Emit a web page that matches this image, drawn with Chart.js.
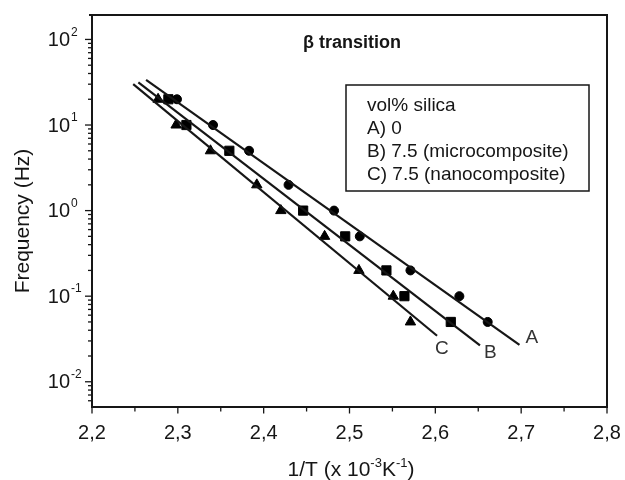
<!DOCTYPE html>
<html>
<head>
<meta charset="utf-8">
<script src="https://cdn.jsdelivr.net/npm/chart.js@4.4.1/dist/chart.umd.min.js"></script>
<style>
  html, body { margin: 0; padding: 0; background: #fff; }
  #wrap { width: 625px; height: 480px; }
</style>
</head>
<body>
<div id="wrap"><canvas id="chart" width="625" height="480"></canvas></div>
<script>
// 1/T (x 10^-3 K^-1) and frequency (Hz)
const xA = [2.299, 2.341, 2.383, 2.429, 2.482, 2.512, 2.571, 2.628, 2.661];
const yA = [20, 10, 5, 2, 1, 0.5, 0.2, 0.1, 0.05];
const xB = [2.289, 2.310, 2.360, 2.446, 2.495, 2.543, 2.564, 2.618];
const yB = [20, 10, 5, 1, 0.5, 0.2, 0.1, 0.05];
const xC = [2.277, 2.298, 2.338, 2.392, 2.420, 2.471, 2.511, 2.551, 2.571];
const yC = [20, 10, 5, 2, 1, 0.5, 0.2, 0.1, 0.05];

// fitted lines (start, end)
const fitAx = [2.263, 2.698];
const fitAy = [33.7, 0.027];
const fitBx = [2.254, 2.652];
const fitBy = [31.4, 0.0266];
const fitCx = [2.248, 2.602];
const fitCy = [30.1, 0.0345];

// curve names and where they sit
const curveNames = ['A', 'B', 'C'];
const curveLabelX = [2.7125, 2.664, 2.6076];
const curveLabelY = [0.0327, 0.0218, 0.0243];

const xTicks = [2.2, 2.3, 2.4, 2.5, 2.6, 2.7, 2.8];
const yDecades = [-2, -1, 0, 1, 2];
const yMin = 0.00514;
const yMax = 193;

const titleText = 'β transition';
const legendLines = ['vol% silica', 'A) 0', 'B) 7.5 (microcomposite)', 'C) 7.5 (nanocomposite)'];
const yTitle = 'Frequency (Hz)';

const FONT = '"Liberation Sans", Arial, sans-serif';
const INK = '#161616';

function pts(xs, ys) {
  return xs.map((x, i) => ({ x: x, y: ys[i] }));
}

const decor = {
  id: 'decor',
  afterDraw(chart) {
    const ctx = chart.ctx;
    const a = chart.chartArea;
    const xs = chart.scales.x;
    const ys = chart.scales.y;
    ctx.save();
    ctx.strokeStyle = INK;
    ctx.fillStyle = INK;

    // frame top and right
    ctx.lineWidth = 2;
    ctx.beginPath();
    ctx.moveTo(a.left - 3, a.top);
    ctx.lineTo(a.right, a.top);
    ctx.lineTo(a.right, a.bottom);
    ctx.stroke();

    // log ticks on the left
    ctx.lineWidth = 1.3;
    for (let d = yDecades[0] - 1; d <= yDecades[yDecades.length - 1]; d++) {
      for (let m = 1; m < 10; m++) {
        const v = m * Math.pow(10, d);
        if (v < yMin || v > yMax) continue;
        const py = ys.getPixelForValue(v);
        const len = m === 1 ? 7 : 4;
        ctx.beginPath();
        ctx.moveTo(a.left - len, py);
        ctx.lineTo(a.left, py);
        ctx.stroke();
      }
    }
    // x ticks, every 0.05, and their labels
    const x0 = xTicks[0];
    const nx = Math.round((xTicks[xTicks.length - 1] - x0) / 0.05);
    for (let i = 0; i <= nx; i++) {
      const px = xs.getPixelForValue(x0 + i * 0.05);
      const len = i % 2 === 0 ? 7 : 5;
      ctx.beginPath();
      ctx.moveTo(px, a.bottom);
      ctx.lineTo(px, a.bottom + len);
      ctx.stroke();
    }
    ctx.font = '20px ' + FONT;
    ctx.textAlign = 'center';
    ctx.textBaseline = 'alphabetic';
    xTicks.forEach(v => {
      ctx.fillText(v.toFixed(1).replace('.', ','), xs.getPixelForValue(v), 439);
    });

    // y tick labels 10^n
    yDecades.forEach(d => {
      const py = ys.getPixelForValue(Math.pow(10, d));
      ctx.font = '20px ' + FONT;
      ctx.textAlign = 'right';
      ctx.textBaseline = 'middle';
      ctx.fillText('10', 70, py + 1);
      ctx.font = '12px ' + FONT;
      ctx.textAlign = 'left';
      ctx.fillText(String(d), 71, py - 7);
    });

    // y title
    ctx.save();
    ctx.translate(29, 221);
    ctx.rotate(-Math.PI / 2);
    ctx.font = '21px ' + FONT;
    ctx.textAlign = 'center';
    ctx.textBaseline = 'alphabetic';
    ctx.fillText(yTitle, 0, 0);
    ctx.restore();

    // x title with superscripts
    const parts = [['1/T (x 10', 21, 0], ['-3', 13, -9], ['K', 21, 0], ['-1', 13, -9], [')', 21, 0]];
    let w = 0;
    parts.forEach(p => { ctx.font = p[1] + 'px ' + FONT; w += ctx.measureText(p[0]).width; });
    let tx = 351 - w / 2;
    ctx.textAlign = 'left';
    ctx.textBaseline = 'alphabetic';
    parts.forEach(p => {
      ctx.font = p[1] + 'px ' + FONT;
      ctx.fillText(p[0], tx, 476 + p[2]);
      tx += ctx.measureText(p[0]).width;
    });

    // title inside the plot
    ctx.font = 'bold 18px ' + FONT;
    ctx.fillText(titleText, 303, 48);

    // legend box
    ctx.lineWidth = 1.5;
    ctx.strokeRect(346, 85, 243, 106);
    ctx.font = '19px ' + FONT;
    legendLines.forEach((t, i) => {
      ctx.fillText(t, 367, 110.5 + i * 23.2);
    });

    // curve names
    ctx.font = '19px ' + FONT;
    ctx.fillStyle = '#333';
    ctx.textAlign = 'center';
    ctx.textBaseline = 'middle';
    curveNames.forEach((n, i) => {
      ctx.fillText(n, xs.getPixelForValue(curveLabelX[i]), ys.getPixelForValue(curveLabelY[i]));
    });
    ctx.restore();
  }
};

const lineStyle = {
  showLine: true,
  borderColor: INK,
  borderWidth: 2.2,
  pointRadius: 0,
  fill: false
};
const markStyle = {
  showLine: false,
  backgroundColor: '#000',
  borderColor: '#000',
  borderWidth: 1
};

new Chart(document.getElementById('chart'), {
  type: 'scatter',
  data: {
    datasets: [
      Object.assign({ label: 'fit A', data: pts(fitAx, fitAy) }, lineStyle),
      Object.assign({ label: 'fit B', data: pts(fitBx, fitBy) }, lineStyle),
      Object.assign({ label: 'fit C', data: pts(fitCx, fitCy) }, lineStyle),
      Object.assign({ label: 'A', data: pts(xA, yA), pointStyle: 'circle', pointRadius: 4.5 }, markStyle),
      Object.assign({ label: 'B', data: pts(xB, yB), pointStyle: 'rect', pointRadius: 6.5 }, markStyle),
      Object.assign({ label: 'C', data: pts(xC, yC), pointStyle: 'triangle', pointRadius: 6 }, markStyle)
    ]
  },
  options: {
    responsive: false,
    animation: false,
    layout: { padding: { top: 15, right: 18, left: 0, bottom: 0 } },
    plugins: {
      legend: { display: false },
      tooltip: { enabled: false }
    },
    scales: {
      x: {
        type: 'linear',
        min: xTicks[0],
        max: xTicks[xTicks.length - 1],
        afterBuildTicks: s => { s.ticks = xTicks.map(v => ({ value: v })); },
        afterFit: s => { s.height = 73.5; },
        grid: { display: false, drawTicks: false },
        border: { display: true, color: INK, width: 2 },
        ticks: { display: false }
      },
      y: {
        type: 'logarithmic',
        min: yMin,
        max: yMax,
        afterFit: s => { s.width = 92; },
        grid: { display: false, drawTicks: false },
        border: { display: true, color: INK, width: 2 },
        ticks: { display: false }
      }
    }
  },
  plugins: [decor]
});
</script>
</body>
</html>
